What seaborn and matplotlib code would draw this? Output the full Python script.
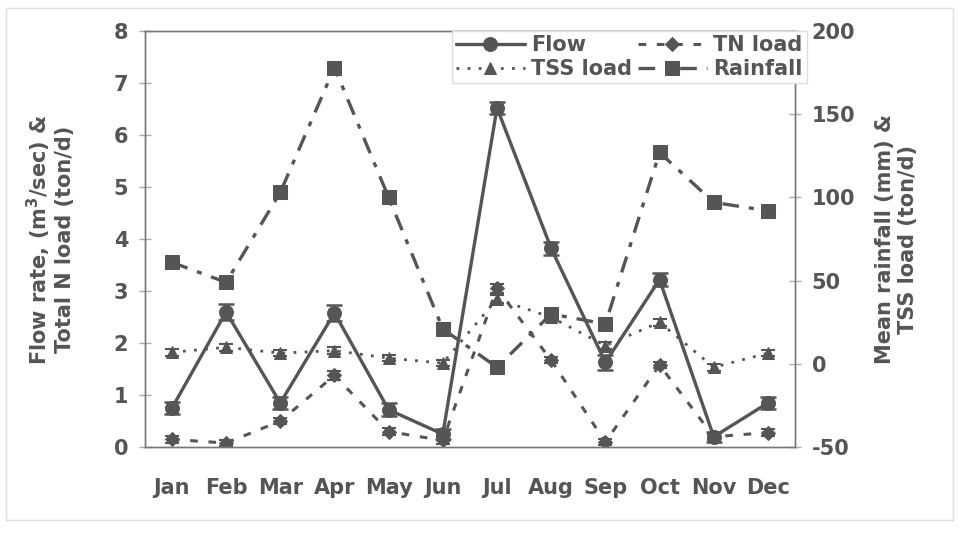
import matplotlib
matplotlib.use("Agg")
import matplotlib.pyplot as plt
from matplotlib.patches import Rectangle
import numpy as np
import pandas as pd
import seaborn as sns

# Monthly means with standard errors
months = ["Jan", "Feb", "Mar", "Apr", "May", "Jun",
          "Jul", "Aug", "Sep", "Oct", "Nov", "Dec"]
flow = [0.75, 2.60, 0.85, 2.58, 0.72, 0.25, 6.52, 3.82, 1.63, 3.22, 0.20, 0.85]
flow_err = [0.12, 0.15, 0.12, 0.15, 0.12, 0.10, 0.12, 0.12, 0.15, 0.12, 0.10, 0.12]
tn_load = [0.15, 0.08, 0.50, 1.38, 0.30, 0.13, 3.05, 1.67, 0.10, 1.58, 0.20, 0.28]
tn_err = [0.06, 0.06, 0.06, 0.08, 0.06, 0.06, 0.08, 0.06, 0.06, 0.06, 0.06, 0.06]
tss_load = [7.0, 10.0, 6.5, 8.0, 3.5, 0.5, 39.0, 28.0, 11.0, 25.0, -2.0, 6.5]
tss_err = [2.0, 2.0, 2.0, 2.0, 2.0, 2.0, 2.5, 2.0, 2.0, 2.0, 2.0, 2.0]
rainfall = [61, 49, 103, 178, 100, 21, -2, 30, 24, 127, 97, 92]

left_ticks = [0, 1, 2, 3, 4, 5, 6, 7, 8]
right_ticks = [-50, 0, 50, 100, 150, 200]

df = pd.DataFrame({"month": months, "idx": np.arange(len(months)),
                   "flow": flow, "tn": tn_load, "tss": tss_load,
                   "rain": rainfall})

sns.set_theme(style="white")
plt.rcParams["font.family"] = ["DejaVu Sans"]
plt.rcParams["font.weight"] = "bold"
plt.rcParams["axes.unicode_minus"] = False
plt.rcParams["mathtext.default"] = "bf"

ink = "#555555"
fs = 15

fig = plt.figure(figsize=(9.59, 5.33), dpi=100)
ax = fig.add_axes([0.151, 0.161, 0.678, 0.781])
ax2 = ax.twinx()

# Left axis: flow and total N load
sns.lineplot(data=df, x="idx", y="flow", ax=ax, color=ink, lw=2.4,
             marker="o", markersize=10, markeredgecolor=ink, label="Flow",
             legend=False)
ax.errorbar(df["idx"], flow, yerr=flow_err, fmt="none", ecolor=ink,
            elinewidth=1.5, capsize=6, capthick=1.8)
sns.lineplot(data=df, x="idx", y="tn", ax=ax, color=ink, lw=2.2,
             linestyle=(0, (2.5, 3.5)), marker="D", markersize=7,
             markeredgecolor=ink, label="TN load", legend=False)
ax.errorbar(df["idx"], tn_load, yerr=tn_err, fmt="none", ecolor=ink,
            elinewidth=1.2, capsize=5, capthick=1.5)

# Right axis: TSS load and rainfall
sns.lineplot(data=df, x="idx", y="tss", ax=ax2, color=ink, lw=2.0,
             linestyle=(0, (1, 3)), marker="^", markersize=9,
             markeredgecolor=ink, label="TSS load", legend=False)
ax2.errorbar(df["idx"], tss_load, yerr=tss_err, fmt="none", ecolor=ink,
             elinewidth=1.2, capsize=5, capthick=1.5)
sns.lineplot(data=df, x="idx", y="rain", ax=ax2, color=ink, lw=2.4,
             linestyle=(0, (5, 3, 1.5, 3)), marker="s", markersize=10,
             markeredgecolor=ink, label="Rainfall", legend=False)

ax.set_xlim(-0.5, 11.5)
ax.set_ylim(0, 8)
ax2.set_ylim(-50, 200)
ax.set_xticks(df["idx"])
ax.set_xticklabels(months)
ax.set_yticks(left_ticks)
ax2.set_yticks(right_ticks)
ax.set_xlabel("")
ax.set_ylabel("Flow rate, (m$^3$/sec) &\nTotal N load (ton/d)",
              fontsize=fs, color=ink, fontweight="bold", labelpad=28,
              linespacing=1.1)
ax2.set_ylabel("Mean rainfall (mm) &\nTSS load (ton/d)", fontsize=fs,
               color=ink, fontweight="bold", labelpad=14, linespacing=1.2)

for a in (ax, ax2):
    for s in a.spines.values():
        s.set_color("#777777")
        s.set_linewidth(1.0)
ax.tick_params(axis="x", length=0, pad=22, labelsize=fs, labelcolor=ink)
ax.tick_params(axis="y", direction="inout", length=8, width=1,
               color="#aaaaaa", pad=8, labelsize=fs, labelcolor=ink)
ax2.tick_params(axis="y", direction="inout", length=8, width=1,
                color="#aaaaaa", pad=8, labelsize=fs, labelcolor=ink)
for lab in ax.get_xticklabels() + ax.get_yticklabels() + ax2.get_yticklabels():
    lab.set_fontweight("bold")

handles = []
labels = []
for a in (ax, ax2):
    h, l = a.get_legend_handles_labels()
    handles += h
    labels += l
order = ["Flow", "TSS load", "TN load", "Rainfall"]
hmap = dict(zip(labels, handles))
leg = fig.legend([hmap[k] for k in order], order, ncol=2,
                 loc="upper left", bbox_to_anchor=(0.471, 0.942),
                 fontsize=fs, frameon=True, fancybox=False,
                 handlelength=3.3, handletextpad=0.3, columnspacing=0.3,
                 labelspacing=0.2, borderpad=0.2, borderaxespad=0)
leg.get_frame().set_edgecolor("#dddddd")
leg.get_frame().set_facecolor("white")
leg.get_frame().set_alpha(1)
for t in leg.get_texts():
    t.set_color(ink)
    t.set_fontweight("bold")

# faint outer frame around the figure
fig.patches.append(Rectangle((0.006, 0.025), 0.988, 0.96,
                             transform=fig.transFigure, fill=False,
                             edgecolor="#dddddd", lw=1.0))

fig.savefig("out.png", dpi=100)
